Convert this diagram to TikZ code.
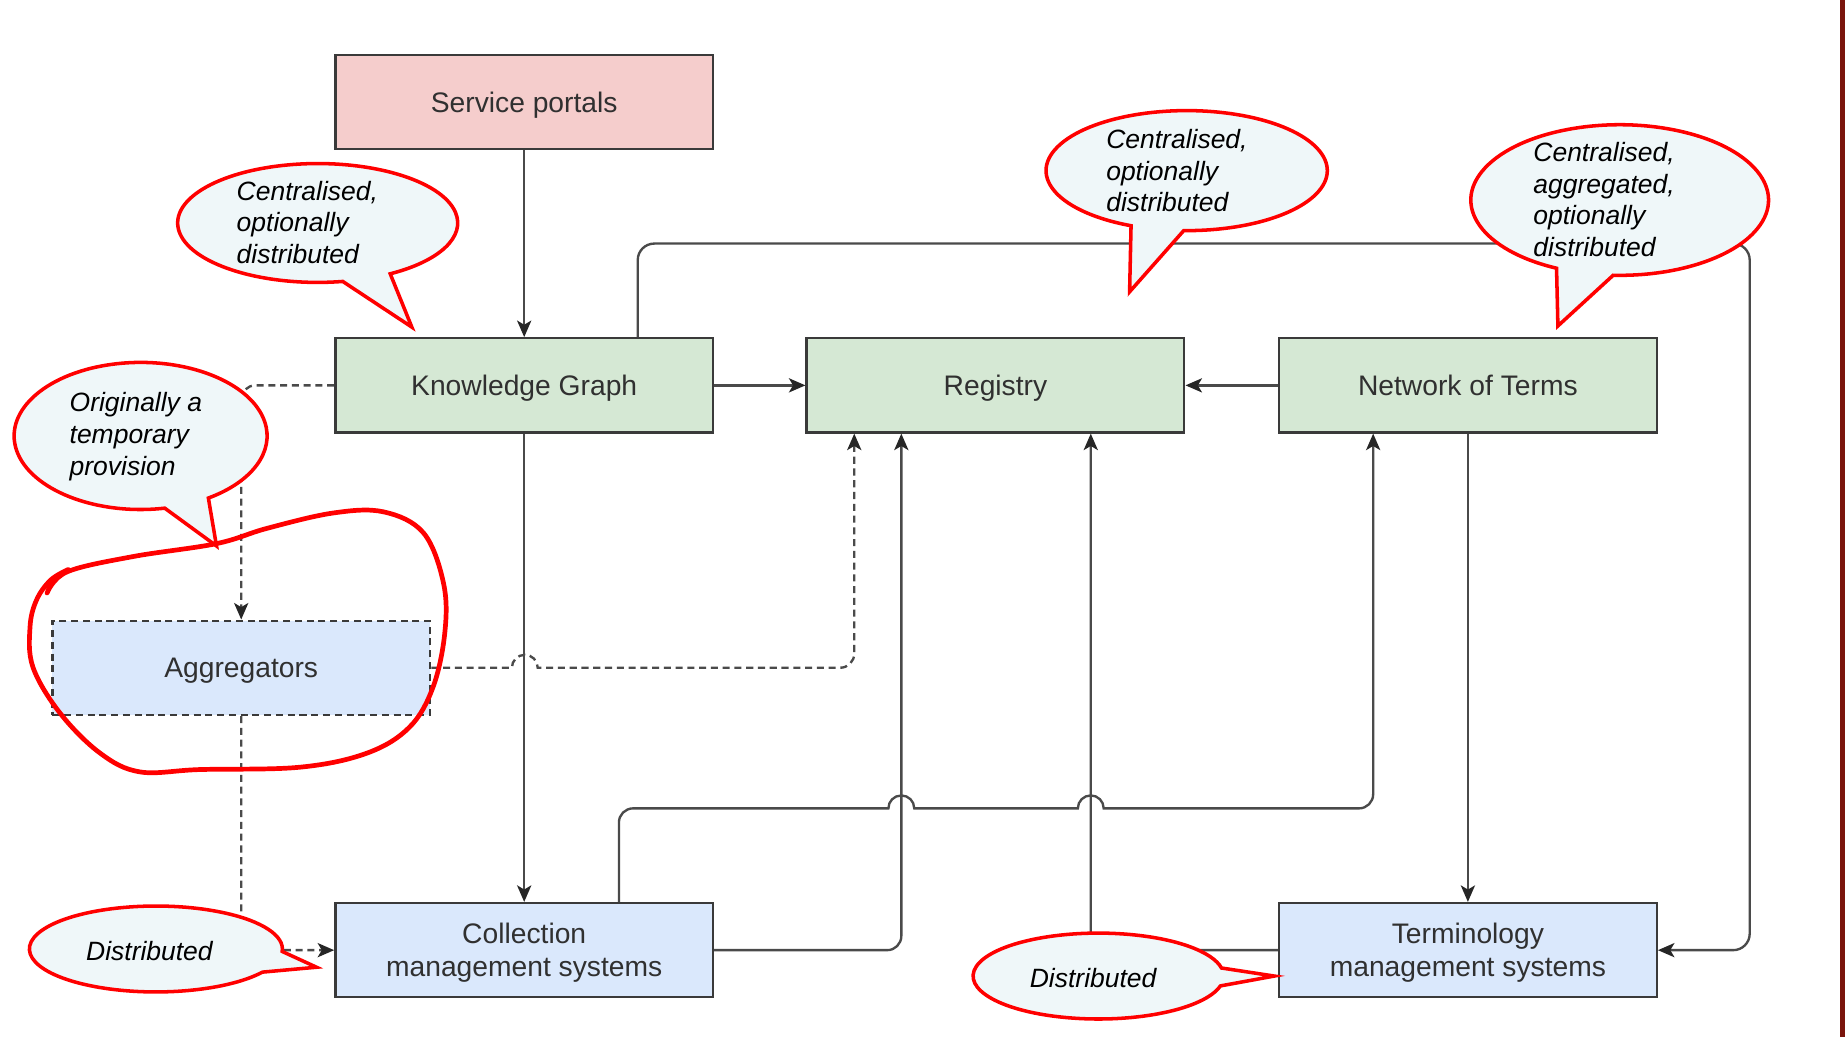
\documentclass[tikz,border=0pt]{standalone}
\usepackage{fontspec}
\setmainfont{Liberation Sans}
\usetikzlibrary{arrows.meta}

\definecolor{portalpink}{HTML}{F5CDCC}
\definecolor{hubgreen}{HTML}{D5E8D4}
\definecolor{sysblue}{HTML}{DAE8FC}
\definecolor{boxline}{HTML}{3A3A3A}
\definecolor{labeltext}{HTML}{303030}
\definecolor{wire}{HTML}{4A4A4A}
\definecolor{notefill}{HTML}{EFF7F9}
\definecolor{slidebar}{HTML}{7A140C}

\begin{document}
\begin{tikzpicture}[x=1pt, y=-1pt,
    box/.style={draw=boxline, line width=2pt, minimum width=321pt, minimum height=80pt,
        inner sep=0pt, align=center, text depth=0pt, text=labeltext, font=\fontsize{24}{28}\selectfont},
    arr/.style={draw=wire, line width=2pt, -{Stealth[length=14pt, width=12pt, inset=3.5pt, color=black!85]}},
    dasharr/.style={arr, dash pattern=on 6pt off 4pt},
    note/.style={draw=red, fill=notefill, line width=3pt},
    notetext/.style={inner sep=0pt, align=left, font=\fontsize{22.5}{27}\selectfont\itshape},
    scribble/.style={draw=red, line width=4pt, line cap=round, line join=round}]
    \useasboundingbox (0,0) rectangle (1568,881);
    \fill[white] (0,0) rectangle (1568,881);
    \fill[slidebar] (1563.5,0) rectangle (1568,881);

    % Boxes
    \node[box, fill=portalpink] (portals) at (445.5,86.5) {Service portals};
    \node[box, fill=hubgreen] (kg) at (445.5,327.5) {Knowledge Graph};
    \node[box, fill=hubgreen] (registry) at (846,327.5) {Registry};
    \node[box, fill=hubgreen] (terms) at (1247.5,327.5) {Network of Terms};
    \node[box, fill=sysblue, dash pattern=on 6pt off 4pt] (aggr) at (205,567.5) {Aggregators};
    \node[box, fill=sysblue] (cms) at (445.5,807.5) {Collection\\management systems};
    \node[box, fill=sysblue] (tms) at (1247.5,807.5) {Terminology\\management systems};
    \coordinate (loopcorner) at (1487,207);

    % Edges
    \draw[arr] (portals) -- (kg);
    \draw[arr] (kg) -- (registry);
    \draw[arr] (terms) -- (registry);
    \draw[arr] (kg) -- (cms);
    \draw[arr] (terms) -- (tms);
    \draw[arr, rounded corners=14pt] ([xshift=96.5pt]kg.north) |- (loopcorner) |- (tms.east);
    \draw[arr, rounded corners=12pt] (cms.east) -| ([xshift=-80pt]registry.south);
    \draw[arr, rounded corners=12pt] (tms.west) -| ([xshift=81pt]registry.south);
    \draw[dasharr, rounded corners=12pt] (kg.west) -| (aggr.north);
    \draw[dasharr, rounded corners=12pt] (aggr.south) |- (cms.west);
    \draw[dasharr] (aggr.east) -- (435,567.5) arc[start angle=180, end angle=360, radius=11]
        -- (714,567.5) arc[start angle=90, end angle=0, radius=12] -- ([xshift=-120pt]registry.south);
    \draw[arr] ([xshift=80.5pt]cms.north) -- (526,699) arc[start angle=180, end angle=270, radius=12]
        -- (755,687) arc[start angle=180, end angle=360, radius=11]
        -- (916,687) arc[start angle=180, end angle=360, radius=11]
        -- (1155,687) arc[start angle=90, end angle=0, radius=12] -- ([xshift=-80.5pt]terms.south);

    % Callouts
    \draw[note] ([shift={(79.7:119 and 50.5)}]270,189.5) arc[start angle=79.7, end angle=418.8, x radius=119, y radius=50.5] -- (350,278) -- cycle;
    \draw[note] ([shift={(79:107.5 and 62.5)}]119.5,370.5) arc[start angle=79, end angle=417.6, x radius=107.5, y radius=62.5] -- (184,464) -- cycle;
    \draw[note] ([shift={(113.3:119.5 and 51)}]1008.5,145) arc[start angle=113.3, end angle=451.2, x radius=119.5, y radius=51] -- (960,248) -- cycle;
    \draw[note] ([shift={(115.1:126.5 and 64)}]1376.5,170) arc[start angle=115.1, end angle=452.5, x radius=126.5, y radius=64] -- (1324,277) -- cycle;
    \draw[note] ([shift={(32.6:107.5 and 36.5)}]132.5,806.5) arc[start angle=32.6, end angle=363.3, x radius=107.5, y radius=36.5] -- (269,822) -- cycle;
    \draw[note] ([shift={(13.3:106.5 and 36.5)}]933.5,829.5) arc[start angle=13.3, end angle=349.2, x radius=106.5, y radius=36.5] -- (1083,829.5) -- cycle;
    \node[notetext, anchor=west] (kgnote) at (201,189) {Centralised,\\optionally\\distributed};
    \node[notetext, anchor=west] (aggrnote) at (59,371) {Originally a\\temporary\\provision};
    \node[notetext, anchor=west] (regnote) at (940,145) {Centralised,\\optionally\\distributed};
    \node[notetext, anchor=west] (termsnote) at (1303,169.5) {Centralised,\\aggregated,\\optionally\\distributed};
    \node[notetext] (cmsnote) at (127,808) {Distributed};
    \node[notetext] (tmsnote) at (929,831) {Distributed};

    % Hand-drawn loop round the aggregators
    \draw[scribble] plot[smooth, tension=0.6] coordinates {(40,504) (57,486) (113,473) (184,462)
        (227,449) (283,436) (326,435) (360,453) (377,496) (378,538) (368,584) (348,618) (312,640)
        (255,652) (170,654) (119,656) (85,640) (51,606) (28,567) (25.5,533) (31,510) (43,493) (58,484)};
\end{tikzpicture}
\end{document}
